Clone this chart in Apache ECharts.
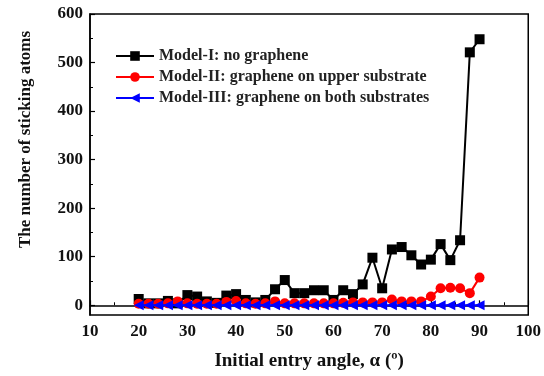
<!DOCTYPE html>
<html>
<head>
<meta charset="utf-8">
<script src="https://cdn.jsdelivr.net/npm/echarts@6/dist/echarts.min.js"></script>
<style>
  html, body { margin: 0; padding: 0; background: #fff; }
  #chart { width: 544px; height: 376px; }
</style>
</head>
<body>
<div id="chart"></div>
<script>
// entry angles (deg)
const angles = [20, 22, 24, 26, 28, 30, 32, 34, 36, 38, 40, 42, 44, 46, 48, 50, 52, 54,
  56, 58, 60, 62, 64, 66, 68, 70, 72, 74, 76, 78, 80, 82, 84, 86, 88, 90];

const model1 = [13, 4, 4, 9, 4, 21, 18, 8, 5, 20, 23, 11, 6, 11, 33, 52, 25, 25,
  31, 31, 11, 31, 23, 43, 98, 35, 115, 120, 103, 84, 94, 126, 93, 134, 521, 548];
const model2 = [3, 3, 3, 4, 8, 4, 3, 3, 3, 7, 9, 4, 3, 4, 8, 4, 4, 4,
  4, 4, 4, 5, 6, 6, 6, 6, 12, 8, 8, 8, 18, 35, 36, 35, 25, 57];
const model3 = [0, 0, 0, 0, 0, 0, 0, 0, 0, 0, 0, 0, 0, 0, 0, 0, 0, 0,
  0, 0, 0, 0, 0, 0, 0, 0, 0, 0, 0, 0, 0, 0, 0, 0, 0, 0];

const seriesNames = ['Model-I: no graphene', 'Model-II: graphene on upper substrate',
  'Model-III: graphene on both substrates'];
const yMajor = [0, 100, 200, 300, 400, 500, 600];
const yMinor = [50, 150, 250, 350, 450, 550];

const font = 'Liberation Serif';
const pairs = (ys) => angles.map((a, i) => [a, ys[i]]);

const chart = echarts.init(document.getElementById('chart'), null, { renderer: 'canvas' });

chart.setOption({
  animation: false,
  grid: {
    left: 90, right: 14, top: 14, bottom: 59,
    show: true, borderColor: '#000', borderWidth: 1.5
  },
  legend: {
    orient: 'vertical',
    left: 110, top: 43,
    itemWidth: 38, itemHeight: 12, itemGap: 5,
    textStyle: { fontFamily: font, fontWeight: 'bold', fontSize: 16, color: '#222' },
    data: seriesNames
  },
  xAxis: {
    type: 'value',
    min: 10, max: 100, interval: 10,
    name: 'Initial entry angle, α (º)',
    nameLocation: 'middle', nameGap: 37,
    nameTextStyle: { fontFamily: font, fontWeight: 'bold', fontSize: 19, color: '#111' },
    axisLine: { lineStyle: { color: '#000', width: 1.5 } },
    axisTick: { inside: true, length: 5, lineStyle: { color: '#000', width: 1.2 } },
    minorTick: { show: true, splitNumber: 2, length: 3, lineStyle: { color: '#000' } },
    axisLabel: { fontFamily: font, fontWeight: 'bold', fontSize: 17, color: '#111', margin: 8 },
    splitLine: { show: false }
  },
  yAxis: [{
    type: 'value',
    min: -20, max: 600,
    name: 'The number of sticking atoms',
    nameLocation: 'middle', nameGap: 56, nameRotate: 90,
    nameTextStyle: { fontFamily: font, fontWeight: 'bold', fontSize: 17, color: '#111',
      padding: [0, 0, 0, 50] },
    axisLine: { show: true, lineStyle: { color: '#000', width: 1.5 } },
    axisTick: { show: true, inside: true, length: 5, customValues: yMajor,
      lineStyle: { color: '#000', width: 1.2 } },
    axisLabel: { fontFamily: font, fontWeight: 'bold', fontSize: 17, color: '#111',
      margin: 7, customValues: yMajor },
    splitLine: { show: false }
  }, {
    type: 'value',
    position: 'left',
    min: -20, max: 600,
    axisLine: { show: false },
    axisTick: { show: true, inside: true, length: 3, customValues: yMinor,
      lineStyle: { color: '#000', width: 1 } },
    axisLabel: { show: false },
    splitLine: { show: false }
  }],
  series: [{
    name: seriesNames[0],
    type: 'line',
    data: pairs(model1),
    symbol: 'rect', symbolSize: 10,
    itemStyle: { color: '#000' },
    lineStyle: { color: '#000', width: 2 },
    z: 3
  }, {
    name: seriesNames[1],
    type: 'line',
    data: pairs(model2),
    symbol: 'circle', symbolSize: 10,
    itemStyle: { color: '#f00' },
    lineStyle: { color: '#f00', width: 2 },
    z: 4
  }, {
    name: seriesNames[2],
    type: 'line',
    data: pairs(model3),
    symbol: 'triangle', symbolSize: 10, symbolRotate: 90,
    itemStyle: { color: '#00f' },
    lineStyle: { color: '#00f', width: 2 },
    z: 5
  }]
});
</script>
</body>
</html>
